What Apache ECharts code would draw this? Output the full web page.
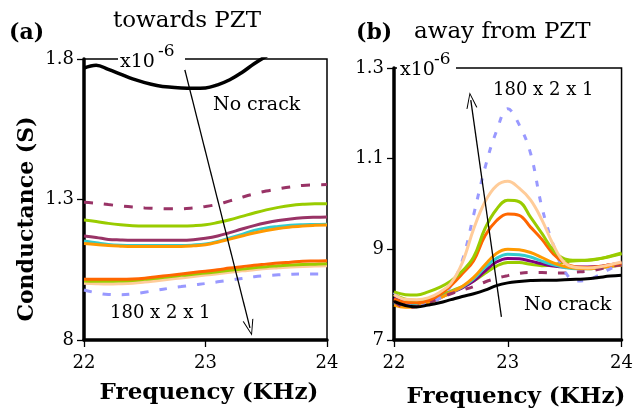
<!DOCTYPE html>
<html>
<head>
<meta charset="utf-8">
<script src="https://cdn.jsdelivr.net/npm/echarts@6/dist/echarts.min.js"></script>
<style>
  html, body { margin: 0; padding: 0; background: #fff; }
  #chart { width: 636px; height: 415px; }
</style>
</head>
<body>
<div id="chart"></div>
<script>
// Frequency sweep (KHz), shared by both panels
const freq = [22.0, 22.1, 22.2, 22.3, 22.4, 22.5, 22.6, 22.7, 22.8, 22.9, 23.0,
              23.1, 23.2, 23.3, 23.4, 23.5, 23.6, 23.7, 23.8, 23.9, 24.0];

// Panel (a): towards PZT, conductance in units of 1e-6 S
const aNoCrack   = [1.768, 1.778, 1.763, 1.746, 1.729, 1.716, 1.706, 1.700, 1.697, 1.696, 1.697,
                    1.708, 1.726, 1.752, 1.783, 1.810, 1.835, 1.855, 1.870, 1.880, 1.890];
const aMaroonDash = [1.290, 1.287, 1.282, 1.277, 1.273, 1.270, 1.268, 1.267, 1.267, 1.270, 1.275,
                    1.283, 1.295, 1.308, 1.320, 1.330, 1.338, 1.345, 1.350, 1.352, 1.353];
const aGreenHi   = [1.227, 1.222, 1.215, 1.210, 1.207, 1.206, 1.206, 1.206, 1.206, 1.207, 1.210,
                    1.218, 1.228, 1.240, 1.252, 1.263, 1.272, 1.279, 1.283, 1.285, 1.285];
const aMaroon    = [1.170, 1.165, 1.158, 1.156, 1.155, 1.155, 1.155, 1.155, 1.155, 1.157, 1.162,
                    1.170, 1.182, 1.195, 1.207, 1.217, 1.225, 1.231, 1.235, 1.237, 1.238];
const aCyan      = [1.152, 1.146, 1.140, 1.137, 1.136, 1.136, 1.136, 1.136, 1.136, 1.138, 1.142,
                    1.151, 1.163, 1.176, 1.190, 1.199, 1.204, 1.208, 1.210, 1.211, 1.212];
const aOrange    = [1.143, 1.140, 1.136, 1.134, 1.133, 1.133, 1.133, 1.133, 1.133, 1.135, 1.139,
                    1.148, 1.159, 1.170, 1.181, 1.190, 1.197, 1.202, 1.206, 1.208, 1.209];
const aRedOrange = [1.016, 1.016, 1.016, 1.016, 1.017, 1.020, 1.025, 1.030, 1.035, 1.040, 1.045,
                    1.050, 1.056, 1.061, 1.066, 1.070, 1.074, 1.077, 1.080, 1.081, 1.082];
const aGreenLo   = [1.010, 1.009, 1.009, 1.010, 1.012, 1.016, 1.020, 1.025, 1.030, 1.034, 1.038,
                    1.043, 1.048, 1.053, 1.057, 1.061, 1.064, 1.067, 1.069, 1.070, 1.071];
const aPeach     = [1.002, 1.000, 0.999, 1.000, 1.002, 1.006, 1.011, 1.016, 1.021, 1.026, 1.031,
                    1.036, 1.041, 1.046, 1.050, 1.054, 1.057, 1.060, 1.062, 1.063, 1.064];
const aLavender  = [0.978, 0.968, 0.962, 0.961, 0.964, 0.970, 0.977, 0.984, 0.990, 0.996, 1.001,
                    1.007, 1.013, 1.019, 1.025, 1.029, 1.032, 1.034, 1.035, 1.035, 1.035];

// Panel (b): away from PZT
const bNoCrack   = [0.785, 0.776, 0.773, 0.777, 0.782, 0.789, 0.796, 0.802, 0.810, 0.820, 0.826,
                    0.829, 0.831, 0.832, 0.832, 0.833, 0.834, 0.835, 0.838, 0.841, 0.843];
const bMaroonDash = [0.785, 0.772, 0.774, 0.782, 0.792, 0.802, 0.810, 0.818, 0.828, 0.836, 0.842,
                    0.847, 0.849, 0.849, 0.848, 0.848, 0.850, 0.852, 0.856, 0.862, 0.866];
const bGreenLo   = [0.800, 0.790, 0.787, 0.790, 0.798, 0.808, 0.818, 0.830, 0.847, 0.863, 0.871,
                    0.871, 0.867, 0.864, 0.866, 0.872, 0.875, 0.876, 0.879, 0.884, 0.890];
const bPurple    = [0.793, 0.782, 0.779, 0.784, 0.793, 0.804, 0.815, 0.830, 0.852, 0.872, 0.880,
                    0.879, 0.874, 0.868, 0.863, 0.861, 0.861, 0.861, 0.862, 0.866, 0.870];
const bCyan      = [0.782, 0.775, 0.776, 0.783, 0.793, 0.805, 0.817, 0.835, 0.860, 0.880, 0.889,
                    0.888, 0.883, 0.874, 0.866, 0.860, 0.857, 0.857, 0.859, 0.862, 0.866];
const bOrange    = [0.777, 0.772, 0.774, 0.782, 0.792, 0.805, 0.818, 0.838, 0.866, 0.891, 0.900,
                    0.899, 0.893, 0.882, 0.870, 0.862, 0.858, 0.857, 0.859, 0.862, 0.865];
const bRedOrange = [0.790, 0.783, 0.782, 0.787, 0.800, 0.820, 0.846, 0.875, 0.930, 0.963, 0.978,
                    0.975, 0.949, 0.922, 0.890, 0.870, 0.861, 0.860, 0.862, 0.866, 0.870];
const bGreenHi   = [0.806, 0.800, 0.799, 0.806, 0.816, 0.830, 0.852, 0.883, 0.946, 0.988, 1.008,
                    1.005, 0.971, 0.935, 0.898, 0.879, 0.876, 0.876, 0.879, 0.885, 0.892];
const bPeach     = [0.800, 0.790, 0.789, 0.793, 0.805, 0.825, 0.870, 0.945, 1.005, 1.040, 1.050,
                    1.035, 1.009, 0.965, 0.910, 0.870, 0.860, 0.859, 0.861, 0.866, 0.872];
const bLavender  = [0.805, 0.780, 0.774, 0.780, 0.792, 0.820, 0.875, 0.976, 1.080, 1.160, 1.210,
                    1.175, 1.112, 0.993, 0.910, 0.852, 0.830, 0.832, 0.843, 0.857, 0.866];

// Axis ticks and their printed labels
const freqTicks = [22, 23, 24];
const aTickValues = [0.8, 1.3, 1.8];
const aTickLabels = ['8', '1.3', '1.8'];
const bTickValues = [0.7, 0.9, 1.1, 1.3];
const bTickLabels = ['7', '9', '1.1', '1.3'];

const SERIF = '"DejaVu Serif", serif';

function pairs(vals) { return freq.map((f, i) => [f, vals[i]]); }

function line(vals, idx, color, width, dash) {
  return {
    type: 'line', xAxisIndex: idx, yAxisIndex: idx,
    data: pairs(vals), smooth: 0.4, showSymbol: false, symbol: 'none',
    clip: true, silent: true,
    lineStyle: { color: color, width: width, type: dash || 'solid' }
  };
}

function xAxisFor(idx) {
  return {
    type: 'value', gridIndex: idx, min: 22, max: 24, interval: 1,
    axisLine: { show: true, lineStyle: { color: '#000', width: 3.5 } },
    axisTick: { show: true, length: 7, customValues: freqTicks, lineStyle: { color: '#000', width: 1.3 } },
    axisLabel: { color: '#000', fontFamily: SERIF, fontSize: 18, margin: 14, customValues: freqTicks },
    splitLine: { show: false }
  };
}

function yAxisFor(idx, min, max, values, labels) {
  return {
    type: 'value', gridIndex: idx, min: min, max: max,
    axisLine: { show: true, lineStyle: { color: '#000', width: 3.5 } },
    axisTick: { show: true, length: 7, customValues: values, lineStyle: { color: '#000', width: 1.3 } },
    axisLabel: {
      color: '#000', fontFamily: SERIF, fontSize: 18, margin: 10, customValues: values,
      formatter: function (v) {
        let best = 0;
        values.forEach((t, i) => { if (Math.abs(t - v) < Math.abs(values[best] - v)) best = i; });
        return labels[best];
      }
    },
    splitLine: { show: false }
  };
}

function arrow(from, to) {
  return {
    silent: true, animation: false,
    symbol: ['none', 'path://M0,0 L6,14 L4.8,14 L0,2.4 L-4.8,14 L-6,14 Z'],
    symbolSize: [11, 16],
    label: { show: false },
    lineStyle: { color: '#000', width: 1.3, type: 'solid' },
    emphasis: { disabled: true },
    data: [[{ coord: from }, { coord: to }]]
  };
}

function txt(x, y, text, font, align, extra) {
  return Object.assign({
    type: 'text', x: x, y: y, z: 100,
    style: { text: text, font: font, fill: '#000', align: align || 'left', verticalAlign: 'middle',
             textAlign: align || 'left', textVerticalAlign: 'middle' }
  }, extra || {});
}

const chart = echarts.init(document.getElementById('chart'), null, { renderer: 'canvas' });

const seriesA = [
  line(aLavender, 0, '#9999ff', 3, [8, 11]),
  line(aPeach, 0, '#ffcc99', 3),
  line(aGreenLo, 0, '#99cc00', 3),
  line(aRedOrange, 0, '#ff6600', 3),
  line(aCyan, 0, '#33cccc', 3),
  line(aOrange, 0, '#ff9900', 3),
  line(aMaroon, 0, '#993366', 3),
  line(aGreenHi, 0, '#99cc00', 3),
  line(aMaroonDash, 0, '#993366', 3, [9, 11]),
  Object.assign(line(aNoCrack, 0, '#000', 3.5), { markLine: arrow([22.83, 1.761], [23.366, 0.843]) })
];

const seriesB = [
  line(bGreenLo, 1, '#99cc00', 3),
  line(bPurple, 1, '#800080', 3),
  line(bCyan, 1, '#33cccc', 3),
  line(bOrange, 1, '#ff9900', 3),
  line(bMaroonDash, 1, '#993366', 3, [8, 11]),
  line(bLavender, 1, '#9999ff', 3, [6, 10]),
  line(bRedOrange, 1, '#ff6600', 3),
  line(bGreenHi, 1, '#99cc00', 3),
  line(bPeach, 1, '#ffcc99', 3),
  Object.assign(line(bNoCrack, 1, '#000', 3), { markLine: arrow([22.944, 0.751], [22.675, 1.229]) })
];

chart.setOption({
  animation: false,
  backgroundColor: '#fff',
  grid: [
    { left: 84, top: 59, width: 243, height: 281, show: true, borderColor: '#000', borderWidth: 1.5, backgroundColor: 'transparent' },
    { left: 394, top: 68, width: 231, height: 272, show: true, borderColor: '#000', borderWidth: 1.5, backgroundColor: 'transparent' }
  ],
  xAxis: [xAxisFor(0), xAxisFor(1)],
  yAxis: [
    yAxisFor(0, 0.8, 1.8, aTickValues, aTickLabels),
    yAxisFor(1, 0.7, 1.3, bTickValues, bTickLabels)
  ],
  series: seriesA.concat(seriesB),
  graphic: [
    // panel headings
    txt(9, 33, '(a)', 'bold 22px ' + SERIF),
    txt(113, 21, 'towards PZT', '23px ' + SERIF),
    txt(356, 33, '(b)', 'bold 22px ' + SERIF),
    txt(414, 32, 'away from PZT', '23px ' + SERIF),
    // axis titles
    txt(209, 393, 'Frequency (KHz)', 'bold 23px ' + SERIF, 'center'),
    txt(516, 397, 'Frequency (KHz)', 'bold 23px ' + SERIF, 'center'),
    txt(27, 219, 'Conductance (S)', 'bold 22px ' + SERIF, 'center', { rotation: Math.PI / 2 }),
    // scale multipliers, masking the frame line behind them
    { type: 'rect', z: 99, shape: { x: 118, y: 46, width: 67, height: 24 }, style: { fill: '#fff' } },
    txt(120, 62, 'x10', '19px ' + SERIF),
    txt(158, 52, '-6', '17px ' + SERIF),
    { type: 'rect', z: 99, shape: { x: 397, y: 50, width: 59, height: 28 }, style: { fill: '#fff' } },
    txt(400, 70, 'x10', '19px ' + SERIF),
    txt(434, 60, '-6', '17px ' + SERIF),
    // curve annotations
    txt(213, 105, 'No crack', '19px ' + SERIF),
    txt(110, 313, '180 x 2 x 1', '18px ' + SERIF),
    txt(493, 90, '180 x 2 x 1', '18px ' + SERIF),
    txt(524, 305, 'No crack', '19px ' + SERIF)
  ]
});
</script>
</body>
</html>
